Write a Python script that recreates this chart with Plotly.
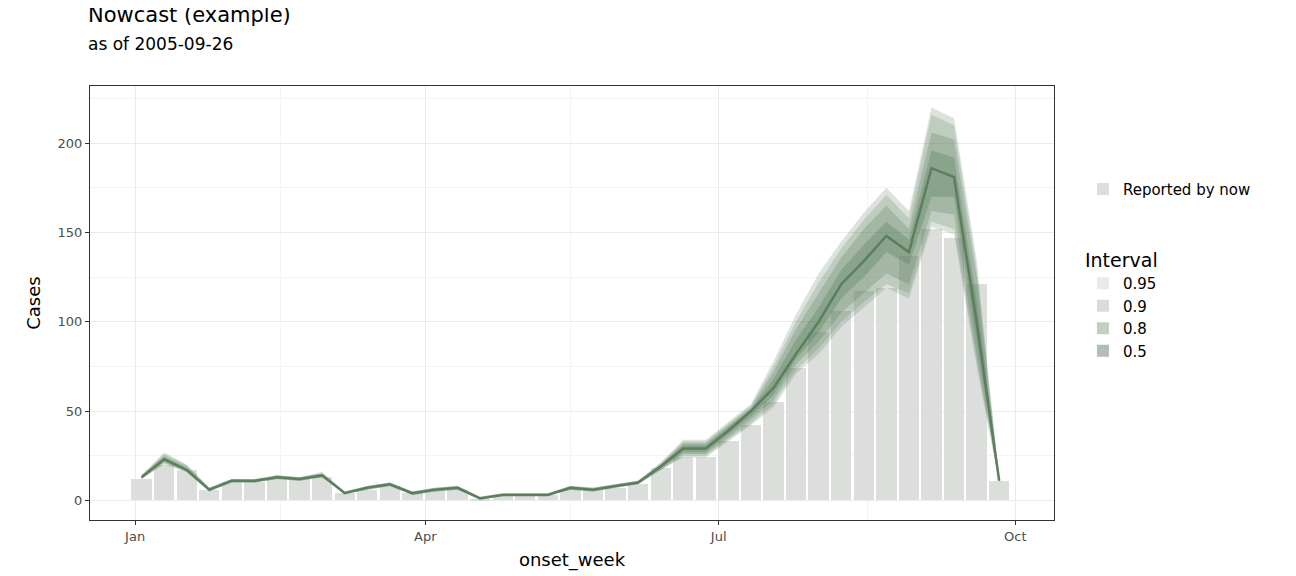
import pandas as pd
import plotly.graph_objects as go

weeks = pd.date_range("2005-01-03", periods=39, freq="7D")

reported = [12, 20, 17, 6, 10, 10, 12, 12, 13, 4, 6, 8, 4, 5, 6, 1, 3, 3, 3, 6,
            6, 7, 9, 18, 24, 24, 33, 42, 55, 74, 94, 106, 117, 119, 137, 152, 147, 121, 11]
median = [13, 23, 17, 6, 11, 11, 13, 12, 14, 4, 7, 9, 4, 6, 7, 1, 3, 3, 3, 7,
          6, 8, 10, 19, 29, 29, 39, 50, 63, 82, 100, 121, 134, 148, 139, 186, 181, 100, 11]

lo95 = [12, 20, 16, 5, 10, 10, 12, 11, 13, 4, 6, 8, 3, 5, 6, 1, 3, 3, 3, 6,
        5, 7, 9, 17, 24, 24, 33, 42, 52, 71, 82, 97, 108, 119, 113, 153, 149, 75, 10]
hi95 = [14, 27, 20, 7, 12, 12, 14, 13, 16, 5, 8, 10, 5, 7, 8, 2, 4, 4, 4, 8,
        7, 9, 11, 21, 34, 34, 44, 54, 78, 104, 127, 145, 161, 175, 162, 220, 214, 135, 12]
lo90 = [12, 21, 16, 5, 10, 10, 12, 11, 13, 4, 6, 8, 3, 5, 6, 1, 3, 3, 3, 6,
        5, 7, 9, 17, 25, 25, 34, 43, 54, 73, 85, 100, 111, 121, 116, 156, 152, 78, 10]
hi90 = [14, 26, 20, 7, 12, 12, 14, 13, 15, 5, 8, 10, 5, 7, 8, 2, 4, 4, 4, 8,
        7, 9, 11, 21, 33, 33, 43, 53, 75, 100, 122, 141, 157, 171, 158, 216, 210, 130, 12]
lo80 = [12, 21, 16, 5, 10, 10, 12, 11, 13, 4, 6, 8, 3, 5, 6, 1, 3, 3, 3, 6,
        5, 7, 9, 17, 26, 26, 35, 45, 56, 76, 89, 105, 116, 127, 121, 162, 160, 82, 10]
hi80 = [14, 25, 19, 7, 12, 11, 14, 13, 15, 5, 8, 10, 5, 7, 8, 2, 4, 4, 4, 8,
        7, 9, 11, 20, 32, 32, 42, 52, 72, 96, 116, 136, 152, 165, 152, 206, 202, 125, 12]
lo50 = [12, 22, 17, 6, 11, 10, 12, 12, 13, 4, 7, 9, 4, 6, 7, 1, 3, 3, 3, 6,
        6, 8, 10, 18, 27, 27, 37, 47, 59, 79, 94, 113, 125, 139, 132, 170, 170, 90, 10]
hi50 = [13, 24, 18, 6, 11, 11, 13, 12, 14, 4, 7, 9, 4, 6, 7, 1, 3, 3, 3, 7,
        6, 8, 10, 20, 31, 31, 41, 51, 68, 90, 108, 129, 143, 156, 146, 196, 192, 112, 11]

# name, lower, upper, band alpha, legend swatch colour
intervals = [("0.95", lo95, hi95, 0.22, "#e6ebe6"), ("0.9", lo90, hi90, 0.22, "#d6dfd6"),
             ("0.8", lo80, hi80, 0.28, "#c4cfc4"), ("0.5", lo50, hi50, 0.35, "#b0bfb0")]

GREEN = "91,127,94"
FONT = "DejaVu Sans"
WEEK_MS = 7 * 86400000

fig = go.Figure()
fig.add_trace(go.Bar(x=weeks, y=reported, name="Reported by now",
                     marker=dict(color="#dcdedb", line=dict(width=0)),
                     width=WEEK_MS * 0.9, legend="legend"))

for name, lo, hi, a, sw in intervals:
    fig.add_trace(go.Scatter(x=weeks, y=lo, mode="lines", line=dict(width=0),
                             showlegend=False, hoverinfo="skip"))
    fig.add_trace(go.Scatter(x=weeks, y=hi, mode="lines", line=dict(width=0),
                             fill="tonexty", fillcolor=f"rgba({GREEN},{a})",
                             showlegend=False, hoverinfo="skip"))
    # legend-only swatch
    fig.add_trace(go.Bar(x=[weeks[0]], y=[None], name=name, legend="legend2",
                         marker=dict(color=sw, line=dict(width=0))))

fig.add_trace(go.Scatter(x=weeks, y=median, mode="lines", showlegend=False,
                         line=dict(color=f"rgb({GREEN})", width=2.5)))

axis_common = dict(showline=True, linecolor="#333333", mirror=True, automargin=False,
                   gridcolor="#ebebeb", zeroline=False, ticks="outside",
                   ticklen=4, tickcolor="#333333",
                   tickfont=dict(size=13, color="#4d4d4d", family=FONT))

fig.update_layout(
    width=1296, height=576,
    margin=dict(l=82, r=250, t=78, b=64, autoexpand=False),
    plot_bgcolor="white", paper_bgcolor="white",
    font=dict(family=FONT, color="black"),
    bargap=0, barmode="overlay",
    title=dict(text="Nowcast (example)<br><span style='font-size:17px'>as of 2005-09-26</span>",
               x=80 / 1296, xanchor="left", xref="container",
               y=0.975, yanchor="top", yref="container",
               font=dict(size=21, family=FONT)),
    xaxis=dict(title=dict(text="onset_week", font=dict(size=18), standoff=10),
               range=["2004-12-18", "2005-10-13"],
               tickvals=["2005-01-01", "2005-04-01", "2005-07-01", "2005-10-01"],
               ticktext=["Jan", "Apr", "Jul", "Oct"],
               minor=dict(tickvals=["2005-02-15", "2005-05-16", "2005-08-16"],
                          showgrid=True, gridcolor="#f4f4f4"),
               **axis_common),
    yaxis=dict(title=dict(text="Cases", font=dict(size=18), standoff=12),
               range=[-11, 232], tickvals=[0, 50, 100, 150, 200],
               minor=dict(tickvals=[25, 75, 125, 175, 225], showgrid=True,
                          gridcolor="#f4f4f4"),
               **axis_common),
    legend=dict(x=1.03, y=0.8, xanchor="left", yanchor="top",
                font=dict(size=15), itemsizing="constant"),
    legend2=dict(x=1.03, y=0.64, xanchor="left", yanchor="top",
                 title=dict(text="Interval", font=dict(size=19)),
                 font=dict(size=15), traceorder="normal"),
)

fig.write_html("out.html")
